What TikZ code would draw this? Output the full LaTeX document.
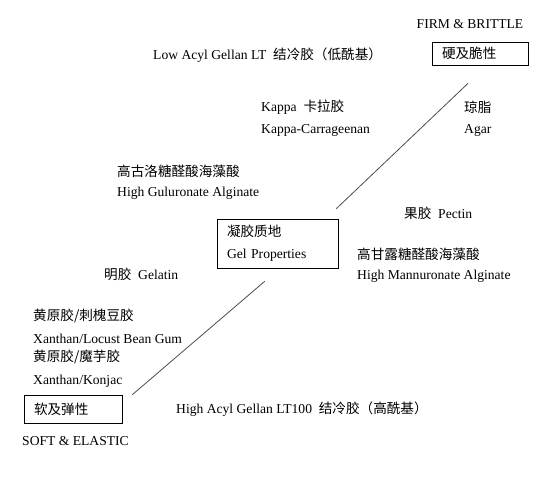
\documentclass[tikz,border=0pt]{standalone}
\usepackage{fontspec}
\setmainfont{Liberation Serif}
\newfontfamily\cjk{Noto Sans CJK SC}
\usetikzlibrary{calc}
\tikzstyle{txt}=[anchor=west,inner sep=0pt,font=\fontsize{13.6}{15}\selectfont]
\tikzstyle{box}=[draw,line width=0.7pt,inner xsep=10pt,align=left,font=\fontsize{13.6}{22}\selectfont]
\tikzstyle{line}=[draw=black!70,line width=0.8pt]
\begin{document}
\begin{tikzpicture}[x=1pt,y=-1pt]
    \useasboundingbox (0,0) rectangle (553,490);
    % boxes
    \node[box,minimum width=96pt,minimum height=23pt,text width=76pt] (Firm) at (480,53.5) {\cjk 硬及脆性};
    \node[box,minimum width=121pt,minimum height=49pt,text width=101pt] (Gel) at (277.5,243.5) {{\cjk 凝胶质地}\\Gel Properties};
    \node[box,minimum width=98pt,minimum height=28pt,text width=78pt] (Soft) at (73,409) {\cjk 软及弹性};
    \node[txt,anchor=center] (FirmEn) at (470,24) {FIRM \& BRITTLE};
    \node[txt] (SoftEn) at (22,441) {SOFT \& ELASTIC};
    % gellans
    \node[txt] (LowAcyl) at (153,55) {Low Acyl Gellan LT\ \ {\cjk 结冷胶（低酰基）}};
    \node[txt] (HighAcyl) at (176,409) {High Acyl Gellan LT100\ \ {\cjk 结冷胶（高酰基）}};
    % upper half
    \node[txt] (Kappa-A) at (261,107) {Kappa\ \ {\cjk 卡拉胶}};
    \node[txt] (Kappa-B) at (261,130) {Kappa-Carrageenan};
    \node[txt] (Agar-A) at (464,107) {\cjk 琼脂};
    \node[txt] (Agar-B) at (464,130) {Agar};
    \node[txt] (Gul-A) at (117,171) {\cjk 高古洛糖醛酸海藻酸};
    \node[txt] (Gul-B) at (117,193) {High Guluronate Alginate};
    \node[txt] (Pectin) at (404,213) {{\cjk 果胶}\ \ Pectin};
    % lower half
    \node[txt] (Man-A) at (357,254) {\cjk 高甘露糖醛酸海藻酸};
    \node[txt] (Man-B) at (357,276) {High Mannuronate Alginate};
    \node[txt] (Gelatin) at (104,274) {{\cjk 明胶}\ \ Gelatin};
    \node[txt] (XLB-A) at (33,316) {\cjk 黄原胶/刺槐豆胶};
    \node[txt] (XLB-B) at (33,339) {Xanthan/Locust Bean Gum};
    \node[txt] (XK-A) at (33,357) {\cjk 黄原胶/魔芋胶};
    \node[txt] (XK-B) at (33,381) {Xanthan/Konjac};
    % axis lines
    \coordinate (SoftEnd) at ($(Soft.north east)+(10,0)$);
    \coordinate (GelLow) at ($(Gel.south west)+(48,13)$);
    \coordinate (GelHigh) at ($(Gel.north east)+(-2,-10)$);
    \coordinate (FirmEnd) at ($(Firm.south)+(-12,18)$);
    \draw[line] (SoftEnd) -- (GelLow);
    \draw[line] (GelHigh) -- (FirmEnd);
  \end{tikzpicture}
\end{document}
